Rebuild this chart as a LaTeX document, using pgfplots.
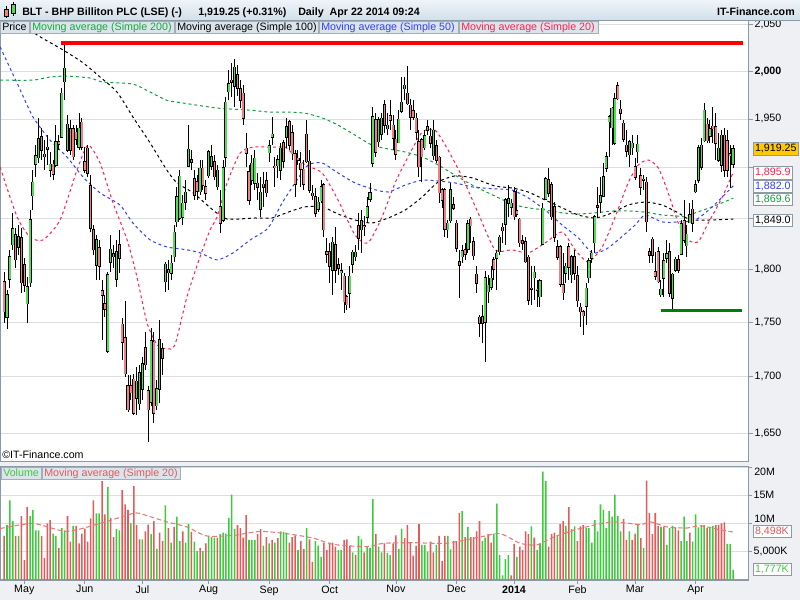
\documentclass[border=0pt]{standalone}
\usepackage{pgfplots}
\pgfplotsset{compat=1.18}
\usepackage{pgfplotstable}
\usepackage{fontspec}
\setmainfont{Liberation Sans}

\definecolor{candleG}{HTML}{55DA55}
\definecolor{candleR}{HTML}{EE8282}
\definecolor{volG}{HTML}{3CCB3C}
\definecolor{volR}{HTML}{E25A5A}
\definecolor{ma200}{HTML}{10A040}
\definecolor{ma50}{HTML}{3040FF}
\definecolor{ma20}{HTML}{FF2050}
\definecolor{volma}{HTML}{E87878}
\definecolor{panel}{HTML}{EEF0F3}
\definecolor{frame}{HTML}{8C9AA6}
\definecolor{gridc}{HTML}{DEDEDE}
\definecolor{barTop}{HTML}{EEF4F9}
\definecolor{barBot}{HTML}{D2E0EA}
\definecolor{legfill}{HTML}{DCE4EB}
\definecolor{gold}{HTML}{FFC800}

% daily candles: index, open, high, low, close
\pgfplotstableread{
i o h l c
0 1788.4 1797.9 1749.2 1760.1
1 1754.8 1780.5 1744.0 1775.9
2 1790.7 1818.8 1782.4 1812.4
3 1823.7 1855.0 1818.8 1839.2
4 1833.4 1840.1 1801.4 1809.1
5 1821.7 1843.1 1814.0 1831.4
6 1830.4 1840.1 1777.7 1787.2
7 1804.3 1811.2 1778.6 1785.3
8 1767.3 1792.9 1749.2 1783.4
9 1787.2 1857.9 1783.4 1848.0
10 1872.1 1897.8 1857.9 1885.5
11 1903.6 1923.2 1891.1 1912.3
12 1910.3 1950.8 1904.6 1929.4
13 1931.8 1940.7 1908.0 1918.1
14 1914.0 1928.4 1897.8 1911.3
15 1921.0 1933.5 1902.9 1919.0
16 1897.8 1916.4 1891.1 1903.6
17 1903.6 1908.0 1887.8 1893.8
18 1902.9 1943.7 1901.2 1926.6
19 1926.6 1933.5 1918.1 1923.9
20 1931.2 1982.1 1930.1 1976.6
21 1989.1 2030.0 1969.8 2003.3
22 1918.1 1954.2 1916.4 1944.5
23 1940.0 1949.0 1913.1 1918.1
24 1940.0 1943.8 1908.0 1911.3
25 1936.3 1943.8 1923.2 1929.1
26 1921.5 1956.7 1918.1 1940.4
27 1946.6 1950.8 1918.1 1921.5
28 1906.2 1921.5 1894.5 1897.8
29 1919.9 1923.2 1891.1 1894.4
30 1882.1 1892.8 1836.2 1839.8
31 1838.2 1843.1 1814.0 1818.8
32 1804.3 1833.4 1790.0 1828.5
33 1820.7 1828.5 1790.0 1802.7
34 1779.6 1790.0 1733.8 1775.5
35 1767.3 1775.9 1755.4 1762.3
36 1723.3 1797.9 1721.6 1794.8
37 1806.9 1833.4 1797.9 1819.5
38 1815.0 1823.7 1801.4 1812.4
39 1790.7 1828.5 1783.7 1817.2
40 1823.7 1838.2 1796.4 1810.8
41 1748.2 1754.2 1715.4 1732.0
42 1735.3 1770.2 1700.0 1702.7
43 1691.9 1701.8 1668.6 1670.4
44 1691.9 1701.8 1679.3 1685.9
45 1698.0 1702.7 1666.0 1667.5
46 1680.8 1709.3 1666.0 1695.8
47 1675.7 1710.9 1670.4 1703.6
48 1688.9 1718.5 1679.3 1711.5
49 1726.5 1741.5 1706.3 1710.9
50 1687.1 1691.3 1642.0 1670.4
51 1677.2 1744.6 1673.4 1732.6
52 1731.7 1741.5 1658.7 1667.5
53 1674.2 1697.3 1670.4 1689.1
54 1689.0 1752.3 1676.6 1733.8
55 1725.5 1730.8 1701.8 1717.0
56 1788.4 1807.0 1778.9 1804.9
57 1799.5 1809.1 1780.5 1797.0
58 1796.4 1814.0 1790.0 1805.9
59 1812.4 1843.1 1807.2 1836.0
60 1846.3 1881.0 1841.4 1871.0
61 1849.6 1897.8 1848.0 1891.6
62 1850.7 1872.8 1843.1 1864.5
63 1865.5 1887.8 1857.9 1875.5
64 1901.9 1943.8 1901.2 1918.8
65 1908.0 1918.1 1897.8 1905.7
66 1888.8 1897.8 1867.8 1872.8
67 1886.1 1892.8 1867.8 1876.8
68 1876.1 1908.0 1872.8 1899.5
69 1899.5 1908.0 1877.8 1882.8
70 1881.1 1887.8 1867.8 1874.5
71 1892.1 1918.1 1890.1 1916.4
72 1901.9 1923.2 1897.8 1911.3
73 1906.3 1913.1 1887.8 1891.1
74 1881.1 1902.9 1877.8 1897.8
75 1861.1 1877.8 1834.9 1844.8
76 1848.0 1908.0 1846.0 1900.1
77 1911.0 1973.3 1901.2 1967.4
78 1978.5 2001.5 1969.8 1986.6
79 1990.9 2008.7 1973.3 1988.5
80 1984.3 2013.0 1962.8 2004.4
81 1996.2 2006.9 1974.5 1982.1
82 1981.3 1990.9 1961.5 1969.8
83 1976.8 1985.6 1943.8 1950.8
84 1920.0 1935.2 1901.2 1915.0
85 1896.1 1902.9 1862.8 1867.8
86 1887.8 1913.1 1882.8 1904.6
87 1884.5 1918.1 1877.8 1909.7
88 1884.5 1894.5 1867.8 1880.5
89 1858.6 1891.1 1851.3 1875.5
90 1880.5 1896.1 1861.2 1883.5
91 1887.1 1896.1 1871.1 1875.1
92 1915.4 1928.4 1906.3 1922.2
93 1931.2 1952.4 1923.2 1934.5
94 1901.5 1911.3 1881.1 1900.5
95 1902.2 1913.1 1889.5 1908.0
96 1897.8 1925.0 1887.8 1919.9
97 1925.5 1928.4 1899.5 1907.0
98 1931.2 1950.8 1919.9 1942.0
99 1947.3 1949.0 1918.1 1923.2
100 1935.9 1943.8 1908.0 1914.7
101 1914.7 1918.1 1871.1 1883.4
102 1909.7 1918.1 1902.9 1908.0
103 1904.6 1916.4 1881.1 1898.5
104 1898.5 1908.0 1877.8 1883.4
105 1934.2 1949.0 1904.6 1906.3
106 1907.0 1918.1 1874.5 1877.8
107 1874.5 1882.8 1867.8 1872.1
108 1871.1 1879.5 1851.3 1854.6
109 1858.6 1871.1 1855.9 1865.2
110 1867.1 1887.8 1864.8 1881.1
111 1882.8 1884.5 1831.7 1838.2
112 1817.2 1830.1 1806.0 1814.6
113 1817.2 1825.3 1786.9 1802.7
114 1799.5 1831.7 1775.9 1826.2
115 1823.7 1841.4 1786.9 1799.5
116 1804.3 1811.2 1794.8 1801.1
117 1796.9 1806.0 1780.5 1798.8
118 1793.2 1796.4 1758.6 1769.5
119 1774.2 1775.9 1761.7 1766.4
120 1777.4 1802.7 1763.3 1793.2
121 1805.0 1818.8 1796.4 1816.6
122 1812.4 1823.7 1808.0 1816.3
123 1842.4 1854.6 1818.8 1830.1
124 1838.2 1857.9 1815.6 1847.3
125 1842.5 1851.9 1832.4 1841.5
126 1850.7 1871.1 1844.7 1861.2
127 1868.5 1884.5 1866.1 1875.0
128 1904.6 1962.8 1901.2 1952.4
129 1949.0 1955.9 1911.3 1916.0
130 1926.7 1952.4 1921.5 1949.0
131 1934.2 1956.3 1928.4 1950.8
132 1965.2 1969.8 1935.2 1943.7
133 1940.3 1955.9 1933.5 1943.7
134 1953.5 1969.8 1938.6 1949.0
135 1943.7 1954.2 1918.1 1930.1
136 1929.1 1938.6 1908.0 1913.7
137 1925.5 1959.4 1925.0 1949.7
138 1958.1 1994.5 1955.9 1967.6
139 1981.6 1994.5 1969.8 1985.3
140 1977.0 2005.1 1964.6 1966.0
141 1964.6 1971.6 1938.6 1952.4
142 1958.7 1969.8 1949.0 1952.4
143 1950.8 1955.9 1928.4 1936.3
144 1926.6 1938.6 1891.1 1901.0
145 1928.4 1931.0 1886.1 1911.3
146 1920.8 1938.6 1918.1 1932.8
147 1938.6 1949.0 1933.5 1942.0
148 1932.5 1940.7 1920.0 1925.0
149 1912.0 1949.0 1908.0 1938.6
150 1922.2 1928.4 1904.6 1908.0
151 1910.8 1912.5 1864.5 1875.1
152 1877.8 1879.5 1859.6 1867.8
153 1877.8 1879.5 1831.7 1839.2
154 1838.2 1848.0 1830.1 1844.7
155 1847.3 1884.5 1844.7 1877.8
156 1862.9 1871.1 1857.9 1859.6
157 1844.7 1848.0 1817.2 1820.5
158 1807.5 1818.8 1772.7 1804.3
159 1812.4 1823.7 1806.0 1817.9
160 1818.8 1825.6 1809.1 1815.0
161 1819.5 1848.0 1815.9 1843.9
162 1848.7 1851.3 1825.3 1842.4
163 1826.9 1831.7 1809.1 1813.0
164 1795.4 1802.7 1777.4 1786.9
165 1754.8 1757.0 1736.9 1749.2
166 1755.4 1766.4 1730.8 1749.2
167 1750.2 1798.6 1713.8 1792.2
168 1778.7 1794.8 1768.0 1784.9
169 1782.9 1802.7 1780.5 1791.6
170 1809.1 1812.4 1790.0 1800.2
171 1810.7 1818.8 1780.5 1815.6
172 1817.2 1833.4 1814.0 1831.1
173 1840.8 1844.7 1825.3 1837.5
174 1844.1 1869.5 1823.7 1867.8
175 1864.6 1882.8 1851.3 1868.8
176 1860.6 1868.8 1852.9 1864.6
177 1876.1 1881.1 1848.0 1851.3
178 1856.9 1877.8 1851.3 1853.6
179 1848.7 1849.7 1822.0 1825.9
180 1827.8 1833.4 1818.8 1825.3
181 1826.9 1831.7 1806.0 1807.3
182 1811.7 1814.0 1766.4 1771.1
183 1782.1 1802.7 1766.4 1781.2
184 1792.2 1802.7 1771.1 1797.3
185 1781.0 1790.0 1764.8 1780.0
186 1774.2 1790.5 1764.8 1789.1
187 1824.6 1864.5 1823.7 1859.6
188 1868.5 1891.1 1867.8 1888.8
189 1887.8 1899.5 1871.1 1874.5
190 1882.8 1886.1 1848.0 1851.3
191 1861.2 1866.1 1826.9 1831.4
192 1822.0 1828.5 1809.1 1811.7
193 1822.0 1823.7 1783.7 1785.9
194 1785.3 1815.6 1771.1 1778.0
195 1796.4 1806.0 1786.9 1802.7
196 1822.0 1825.3 1790.0 1802.1
197 1794.8 1814.0 1786.9 1812.4
198 1812.4 1818.8 1790.0 1796.4
199 1793.8 1802.7 1764.8 1770.4
200 1764.3 1768.0 1746.1 1760.1
201 1760.1 1761.7 1738.4 1756.3
202 1765.2 1786.9 1747.7 1782.1
203 1792.2 1810.8 1786.9 1808.1
204 1810.7 1818.8 1806.0 1815.6
205 1825.9 1852.9 1815.6 1851.3
206 1861.7 1881.1 1851.3 1860.7
207 1865.5 1891.1 1854.6 1871.8
208 1871.8 1904.6 1871.1 1891.1
209 1899.5 1916.4 1896.1 1911.3
210 1947.3 1954.2 1911.3 1952.4
211 1941.0 1962.8 1923.2 1961.1
212 1925.0 1976.8 1923.2 1971.6
213 1984.6 1989.1 1969.8 1971.6
214 1960.1 1969.8 1949.0 1955.9
215 1945.5 1949.0 1926.6 1929.1
216 1923.2 1938.6 1911.3 1917.2
217 1913.1 1928.4 1901.2 1926.6
218 1920.8 1933.5 1913.1 1924.9
219 1901.2 1909.7 1887.8 1890.5
220 1916.4 1933.5 1904.6 1923.9
221 1891.8 1899.5 1872.8 1880.5
222 1888.3 1892.8 1877.8 1887.3
223 1885.5 1891.1 1836.5 1846.3
224 1817.2 1820.5 1806.0 1814.0
225 1829.2 1831.7 1806.0 1814.0
226 1797.9 1817.2 1790.0 1793.8
227 1817.2 1822.0 1786.9 1788.4
228 1775.9 1790.0 1774.2 1781.1
229 1791.6 1815.6 1774.2 1808.4
230 1810.8 1828.5 1806.0 1815.0
231 1817.2 1825.3 1774.2 1777.4
232 1772.7 1796.4 1761.7 1795.4
233 1799.5 1812.4 1797.9 1809.8
234 1809.1 1814.0 1796.4 1799.5
235 1815.0 1848.0 1814.0 1844.1
236 1847.3 1867.8 1825.3 1828.0
237 1822.9 1843.1 1812.4 1834.2
238 1845.4 1864.5 1844.7 1852.9
239 1858.6 1867.8 1836.5 1844.7
240 1876.1 1887.8 1874.5 1882.8
241 1887.8 1923.2 1884.5 1920.5
242 1900.6 1930.1 1897.8 1923.2
243 1927.7 1966.3 1926.6 1959.4
244 1944.7 1950.8 1925.0 1927.7
245 1932.5 1949.0 1925.0 1939.7
246 1942.4 1962.8 1925.0 1940.3
247 1942.0 1955.9 1908.0 1925.0
248 1908.0 1935.2 1906.3 1919.9
249 1902.9 1938.6 1896.1 1933.5
250 1933.5 1940.4 1891.1 1897.8
251 1927.7 1938.6 1891.1 1897.8
252 1914.7 1923.2 1879.5 1912.0
253 1903.6 1923.2 1899.5 1919.25
}\candles

% daily volume in millions, g=1 green bar, g=0 red bar
\pgfplotstableread{
i v g
0 7.8 0
1 9.7 1
2 14.1 1
3 10.4 1
4 7.8 0
5 7.8 1
6 11.3 0
7 3.5 0
8 12.9 0
9 11.3 1
10 12.4 1
11 8.8 1
12 8.8 1
13 7.8 0
14 3.9 0
15 10.0 0
16 10.6 0
17 8.2 1
18 7.8 1
19 5.7 0
20 9.2 1
21 8.8 1
22 11.3 0
23 6.8 0
24 9.6 1
25 9.6 0
26 6.5 0
27 8.2 0
28 9.1 0
29 6.8 0
30 10.9 0
31 14.1 0
32 11.8 1
33 11.8 1
34 17.5 0
35 11.6 0
36 16.5 1
37 11.0 0
38 7.6 0
39 9.0 1
40 8.8 1
41 15.9 0
42 13.4 0
43 12.4 0
44 10.0 1
45 16.6 0
46 9.7 0
47 7.2 0
48 7.2 1
49 8.6 0
50 9.8 0
51 8.1 1
52 10.4 0
53 5.5 1
54 8.4 0
55 6.9 0
56 13.2 1
57 9.2 0
58 6.6 1
59 9.4 0
60 11.2 1
61 6.9 1
62 8.6 0
63 6.6 1
64 9.9 1
65 8.5 0
66 6.8 1
67 5.1 1
68 5.7 0
69 5.1 1
70 6.5 0
71 7.8 1
72 7.6 1
73 7.5 1
74 7.5 0
75 8.1 1
76 8.4 1
77 8.2 1
78 11.0 1
79 15.1 1
80 9.0 1
81 9.7 0
82 9.2 0
83 7.5 0
84 11.5 0
85 7.1 1
86 7.1 1
87 7.1 1
88 8.1 0
89 9.0 0
90 6.1 1
91 7.6 0
92 6.5 1
93 7.1 0
94 6.6 1
95 7.4 0
96 8.6 1
97 8.5 1
98 8.4 1
99 6.6 0
100 7.6 0
101 7.9 0
102 5.3 1
103 6.9 0
104 5.5 0
105 9.2 1
106 7.2 0
107 3.2 0
108 6.9 1
109 6.1 1
110 4.1 1
111 6.6 0
112 5.3 0
113 6.6 0
114 6.6 0
115 5.9 0
116 5.3 1
117 5.3 1
118 7.1 0
119 7.2 0
120 6.1 0
121 4.9 1
122 4.4 0
123 7.8 1
124 7.2 1
125 4.9 0
126 5.9 1
127 5.7 1
128 14.3 1
129 8.1 0
130 5.9 1
131 4.9 1
132 6.5 0
133 4.8 1
134 4.4 1
135 6.5 0
136 7.9 0
137 5.5 1
138 9.1 1
139 7.4 0
140 9.7 0
141 6.6 0
142 4.3 0
143 6.1 0
144 9.9 0
145 6.2 1
146 6.2 1
147 5.0 1
148 6.8 0
149 4.9 0
150 6.2 1
151 7.8 0
152 3.4 0
153 7.8 0
154 7.8 1
155 5.4 1
156 6.9 0
157 6.9 0
158 11.9 0
159 12.2 1
160 7.6 0
161 9.4 1
162 7.6 0
163 7.6 0
164 8.6 0
165 10.4 0
166 6.9 1
167 7.5 1
168 8.1 0
169 6.6 0
170 8.2 1
171 13.5 1
172 4.4 1
173 0.8 1
174 3.7 1
175 4.4 1
176 0.8 0
177 6.4 0
178 4.1 1
179 5.9 0
180 5.3 0
181 8.6 0
182 8.1 0
183 9.5 1
184 7.5 0
185 5.3 1
186 6.5 1
187 19.2 1
188 17.5 1
189 5.9 0
190 8.1 0
191 8.4 0
192 7.8 1
193 9.9 0
194 10.4 0
195 9.6 1
196 12.9 0
197 9.0 1
198 9.5 1
199 6.9 0
200 9.5 0
201 9.7 0
202 9.2 1
203 9.2 1
204 6.6 1
205 10.6 1
206 8.6 1
207 13.4 1
208 12.4 1
209 9.2 1
210 12.2 1
211 11.2 1
212 15.1 1
213 11.3 1
214 8.6 1
215 10.8 0
216 7.1 0
217 8.6 1
218 7.1 0
219 8.2 0
220 9.7 1
221 7.4 0
222 5.7 1
223 17.6 0
224 11.9 0
225 8.1 0
226 11.9 0
227 9.6 0
228 9.4 1
229 9.4 0
230 6.2 1
231 9.2 1
232 9.6 1
233 9.3 0
234 8.8 0
235 6.9 1
236 11.2 1
237 6.9 1
238 8.4 0
239 6.8 1
240 11.6 1
241 9.3 1
242 9.7 1
243 9.7 1
244 9.2 0
245 9.4 1
246 9.6 1
247 9.7 0
248 9.7 0
249 10.0 0
250 10.2 0
251 6.4 1
252 6.4 1
253 1.777 1
}\vol

\pgfplotsset{
  txt/.style={font=\fontsize{8}{9.6}\selectfont},
  candlebar/.style={only marks, mark=*, mark size=0pt,
    mark options={draw opacity=0, fill opacity=0},
    error bars/y dir=plus, error bars/y explicit, error bars/error mark=none},
}

\begin{document}
\begin{tikzpicture}
\useasboundingbox (0,0) rectangle (600pt,450pt);
% background panels (pixel coordinates, y downwards)
\begin{scope}[x=0.75pt, y=-0.75pt, shift={(0pt,450pt)}]
  \fill[panel] (0,0) rectangle (800,600);
  \fill[white] (0,20) rectangle (748,462);
  \fill[white] (0,467) rectangle (748,580);
\end{scope}

% ---------------- price panel ----------------
\begin{axis}[at={(0pt,103.5pt)}, anchor=south west, scale only axis,
  width=561pt, height=331.5pt,
  xmin=-1.43, xmax=258.2, ymode=log, ymin=1624.9, ymax=2055.5,
  xtick=\empty,
  ytick={1650,1700,1750,1800,1850,1900,1950,2000,2050},
  yticklabels={{1,650},{1,700},{1,750},{1,800},{},{},{1,950},{\textbf{2,000}},{2,050}},
  ytick pos=right, yticklabel pos=right, yminorticks=false,
  tick align=outside, major tick length=3.75pt,
  tick style={frame, line width=0.6pt},
  axis line style={frame, line width=0.75pt},
  ymajorgrids, grid style={gridc, line width=0.6pt},
  yticklabel style={txt, anchor=west, inner sep=1pt}]

  % moving averages
  \addplot[ma200, line width=0.75pt, dash pattern=on 2.2pt off 2.2pt, smooth, tension=0.4] coordinates {
    (-1.4,1990.9) (10.0,1990.9) (15.9,1994.1) (21.8,1995.1) (29.8,1993.0) (34.3,1988.8)
    (44.7,1986.6) (50.7,1978.2) (56.5,1969.8) (62.1,1966.7) (73.9,1961.5) (85.4,1959.4)
    (92.3,1957.3) (98.6,1957.3) (104.5,1956.3) (110.4,1951.1) (115.9,1943.8) (121.8,1933.5)
    (127.7,1923.2) (133.3,1919.1) (139.2,1916.1) (145.1,1911.0) (150.7,1902.9) (156.5,1892.8)
    (162.5,1882.8) (168.0,1874.8) (176.3,1863.8) (181.9,1859.9) (187.8,1857.9) (193.7,1854.9)
    (199.3,1853.9) (205.2,1854.9) (211.1,1856.9) (216.6,1856.9) (222.5,1855.9) (228.4,1852.9)
    (234.0,1852.0) (236.4,1851.0) (239.9,1854.9) (245.8,1860.9) (253.1,1869.6)};
  \addplot[black, line width=0.75pt, dash pattern=on 2.2pt off 2.2pt, smooth, tension=0.4] coordinates {
    (-1.4,2064.0) (5.5,2053.3) (11.4,2039.1) (20.4,2022.9) (27.4,2009.0) (33.3,1994.1)
    (39.2,1978.2) (44.7,1952.4) (50.7,1925.3) (56.5,1897.8) (60.0,1884.8) (65.6,1874.8)
    (72.5,1857.9) (77.4,1849.0) (87.1,1850.0) (93.0,1850.0) (98.6,1855.9) (104.5,1860.9)
    (110.4,1860.9) (115.9,1853.9) (121.8,1848.0) (127.7,1845.0) (133.3,1850.0) (139.2,1857.9)
    (145.1,1870.8) (150.7,1885.8) (156.5,1891.8) (162.5,1889.8) (170.4,1881.8) (176.3,1879.8)
    (181.9,1875.8) (187.8,1867.8) (193.7,1859.9) (199.3,1852.9) (205.2,1850.0) (211.1,1854.9)
    (216.6,1862.8) (222.5,1865.8) (228.4,1862.8) (234.0,1854.9) (238.9,1848.0) (253.1,1849.0)};
  \addplot[ma50, line width=0.75pt, dash pattern=on 2.2pt off 2.2pt, smooth, tension=0.4] coordinates {
    (-1.4,2026.1) (4.5,1987.7) (10.0,1952.1) (15.9,1928.4) (21.8,1911.0) (27.4,1890.8)
    (33.3,1874.8) (40.2,1862.8) (44.7,1845.0) (50.7,1828.5) (56.5,1821.7) (63.5,1818.8)
    (68.0,1815.9) (73.9,1809.1) (79.5,1815.9) (85.4,1828.5) (91.6,1840.1) (96.5,1864.8)
    (101.0,1884.8) (105.5,1902.9) (110.4,1904.9) (115.9,1894.8) (121.8,1884.8) (127.7,1878.8)
    (133.3,1875.8) (139.2,1882.8) (145.1,1887.8) (150.7,1886.8) (156.5,1884.8) (162.5,1880.8)
    (170.4,1878.8) (176.3,1877.8) (181.9,1869.8) (187.8,1857.9) (193.7,1843.1) (199.3,1830.4)
    (204.1,1815.9) (208.6,1818.8) (213.1,1828.5) (219.0,1843.1) (222.5,1852.9) (228.4,1846.0)
    (234.0,1846.0) (239.9,1848.0) (245.8,1860.9) (253.1,1882.0)};
  \addplot[ma20, line width=0.75pt, dash pattern=on 2.2pt off 2.2pt, smooth, tension=0.4] coordinates {
    (-1.4,1900.9) (4.5,1851.0) (9.0,1831.4) (13.5,1828.5) (19.4,1848.0) (25.3,1897.8)
    (29.1,1923.2) (33.3,1904.9) (37.8,1864.8) (42.7,1828.5) (46.1,1792.9) (49.6,1749.5)
    (53.1,1729.2) (56.5,1725.5) (59.3,1729.2) (63.5,1774.3) (68.0,1812.1) (71.5,1838.2)
    (73.9,1851.0) (77.4,1884.8) (81.9,1915.1) (86.4,1921.2) (93.0,1921.2) (97.5,1921.2)
    (99.9,1915.1) (104.5,1902.9) (110.4,1894.8) (115.9,1867.8) (121.8,1833.4) (126.3,1825.6)
    (131.2,1851.0) (135.7,1884.8) (140.2,1911.0) (145.1,1936.5) (149.6,1938.6) (154.1,1918.1)
    (159.0,1890.8) (164.5,1854.9) (170.4,1818.8) (176.3,1818.8) (181.9,1815.9) (187.8,1825.6)
    (193.7,1836.2) (198.2,1818.8) (202.7,1807.2) (207.6,1821.7) (212.1,1851.0) (216.6,1884.8)
    (220.1,1902.9) (223.6,1908.0) (227.1,1899.9) (230.5,1874.8) (234.0,1845.0) (237.5,1828.5)
    (240.9,1826.6) (244.4,1845.0) (249.3,1870.8) (253.1,1895.9)};

  % wicks
  \addplot[candlebar, error bars/error bar style={black, line width=0.75pt}]
    table[x=i, y=l, y error plus expr={\thisrow{h}-\thisrow{l}}] {\candles};
  % body outlines
  \addplot[candlebar, error bars/error bar style={black, line width=2.3pt,
      shorten <=-0.45pt, shorten >=-0.45pt}]
    table[x=i, y expr={min(\thisrow{o},\thisrow{c})},
          y error plus expr={abs(\thisrow{c}-\thisrow{o})}] {\candles};
  % body fills
  \addplot[candlebar, restrict expr to domain={\thisrow{c}-\thisrow{o}}{0:1000},
      error bars/error bar style={candleG, line width=1.15pt}]
    table[x=i, y expr={min(\thisrow{o},\thisrow{c})},
          y error plus expr={abs(\thisrow{c}-\thisrow{o})}] {\candles};
  \addplot[candlebar, restrict expr to domain={\thisrow{o}-\thisrow{c}}{0.0001:1000},
      error bars/error bar style={candleR, line width=1.15pt}]
    table[x=i, y expr={min(\thisrow{o},\thisrow{c})},
          y error plus expr={abs(\thisrow{c}-\thisrow{o})}] {\candles};

  % resistance and support lines
  \addplot[red, line width=3pt] coordinates {(19.7,2030) (256.6,2030)};
  \addplot[green!50!black, line width=2.2pt] coordinates {(228,1761.5) (256.1,1761.5)};
\end{axis}

% ---------------- volume panel ----------------
\begin{axis}[at={(0pt,15pt)}, anchor=south west, scale only axis,
  width=561pt, height=84.75pt,
  xmin=-1.43, xmax=258.2, ymin=0, ymax=20,
  xtick={7,28,48,71,92,113,136,157,177,199,219,240},
  xticklabels={May,Jun,Jul,Aug,Sep,Oct,Nov,Dec,\textbf{2014},Feb,Mar,Apr},
  ytick={5,10,15,20}, yticklabels={{5,000K},{},{15M},{}},
  xtick pos=bottom, ytick pos=right, yticklabel pos=right,
  tick align=outside, major tick length=3pt,
  tick style={frame, line width=0.6pt},
  axis line style={frame, line width=0.75pt},
  ymajorgrids, grid style={gridc, line width=0.6pt},
  yticklabel style={txt, anchor=west, inner sep=1pt},
  xticklabel style={txt, inner sep=1pt}]
  \addplot[ybar, bar width=1.15pt, bar shift=0pt, fill=volG, draw=none,
    restrict expr to domain={\thisrow{g}}{0.5:2}] table[x=i, y=v] {\vol};
  \addplot[ybar, bar width=1.15pt, bar shift=0pt, fill=volR, draw=none,
    restrict expr to domain={\thisrow{g}}{-1:0.5}] table[x=i, y=v] {\vol};
  \addplot[volma, line width=0.8pt, dash pattern=on 3.5pt off 2pt, smooth, tension=0.4] coordinates {
    (-1.4,9.1) (10.1,10) (21.7,8.6) (33.3,10) (44.9,11.8) (48.3,11.6) (56.4,10.3) (63.4,9.4)
    (70.3,7.8) (79.6,7.9) (88.8,8.6) (98.1,8.2) (107.4,7.4) (114.3,6.3) (125.9,5.9) (131.7,6.5)
    (142.1,6.6) (153.6,6.5) (165.2,7.6) (172.2,8.2) (179.1,6.5) (184.9,6.2) (190.7,7.6)
    (197.7,8.8) (204.6,9.7) (211.5,10.3) (220.8,9.8) (224.3,10.3) (230,9.4) (237,9.2)
    (241.6,9.6) (247.4,9.0) (252.9,8.5)};
\end{axis}

% ---------------- header, legends, value boxes ----------------
\begin{scope}[x=0.75pt, y=-0.75pt, shift={(0pt,450pt)},
    every node/.style={font=\fontsize{8}{9.6}\selectfont, inner sep=0pt}]
  \shade[top color=barTop, bottom color=barBot] (0,0) rectangle (800,20);
  \draw[frame, line width=0.6pt] (0,20) -- (800,20);
  % icon
  \draw[black, line width=0.5pt] (6,6) -- (6,18) (13,2) -- (13,16);
  \filldraw[fill=candleR, draw=black, line width=0.5pt] (4,9) rectangle (8,16);
  \filldraw[fill=candleG, draw=black, line width=0.5pt] (11,4) rectangle (15,13);
  \node[anchor=base west, font=\fontsize{8}{9.6}\selectfont\bfseries] at (22,15.3) {BLT - BHP Billiton PLC (LSE) (-)};
  \node[anchor=base west, font=\fontsize{8}{9.6}\selectfont\bfseries] at (198,15.3) {1,919.25 (+0.31\%)};
  \node[anchor=base west, font=\fontsize{8}{9.6}\selectfont\bfseries] at (298,15.3) {Daily\ \ Apr 22 2014 09:24};
  \node[anchor=base east, font=\fontsize{8}{9.6}\selectfont\bfseries] at (795,15.3) {IT-Finance.com};

  % price legend
  \filldraw[fill=legfill, draw=frame!80, line width=0.5pt] (0,21) rectangle (29,33.5);
  \filldraw[fill=legfill, draw=frame!80, line width=0.5pt] (30,21) rectangle (174,33.5);
  \filldraw[fill=legfill, draw=frame!80, line width=0.5pt] (175,21) rectangle (318,33.5);
  \filldraw[fill=legfill, draw=frame!80, line width=0.5pt] (319,21) rectangle (458,33.5);
  \filldraw[fill=legfill, draw=frame!80, line width=0.5pt] (459,21) rectangle (598,33.5);
  \node[anchor=base west] at (2,30.5) {Price};
  \node[anchor=base west, text=ma200!85!green] at (32,30.5) {Moving average (Simple 200)};
  \node[anchor=base west] at (177,30.5) {Moving average (Simple 100)};
  \node[anchor=base west, text=ma50] at (321,30.5) {Moving average (Simple 50)};
  \node[anchor=base west, text=ma20] at (461,30.5) {Moving average (Simple 20)};

  \node[anchor=west] at (2,455) {\textcopyright IT-Finance.com};

  % volume legend
  \filldraw[fill=legfill, draw=frame!80, line width=0.5pt] (1,467) rectangle (41,479.5);
  \filldraw[fill=legfill, draw=frame!80, line width=0.5pt] (42,467) rectangle (180,479.5);
  \node[anchor=base west, text=volG] at (3,476.5) {Volume};
  \node[anchor=base west, text=volR] at (44,476.5) {Moving average (Simple 20)};
  \node[anchor=west] at (754,471.7) {20M};
  \node[anchor=west] at (754,518.5) {10M};

  % last value boxes
  \node[anchor=west, fill=gold, draw=frame, line width=0.5pt, inner xsep=1.5pt, minimum height=9.2pt] at (752.7,148.9) {1,919.25};
  \node[anchor=west, fill=white, draw=frame, line width=0.5pt, inner xsep=1.5pt, minimum height=9.2pt, text=ma20] at (752.7,172.9) {1,895.9};
  \node[anchor=west, fill=white, draw=frame, line width=0.5pt, inner xsep=1.5pt, minimum height=9.2pt, text=ma50] at (752.7,186.2) {1,882.0};
  \node[anchor=west, fill=white, draw=frame, line width=0.5pt, inner xsep=1.5pt, minimum height=9.2pt, text=ma200] at (752.7,199.5) {1,869.6};
  \node[anchor=west, fill=white, draw=frame, line width=0.5pt, inner xsep=1.5pt, minimum height=9.2pt] at (752.7,220.4) {1,849.0};
  \node[anchor=west, fill=white, draw=frame, line width=0.5pt, inner xsep=1.5pt, minimum height=9.2pt, text=volR] at (752.7,531.5) {8,498K};
  \node[anchor=west, fill=white, draw=frame, line width=0.5pt, inner xsep=1.5pt, minimum height=9.2pt, text=volG] at (752.7,569.7) {1,777K};
\end{scope}
\end{tikzpicture}
\end{document}
